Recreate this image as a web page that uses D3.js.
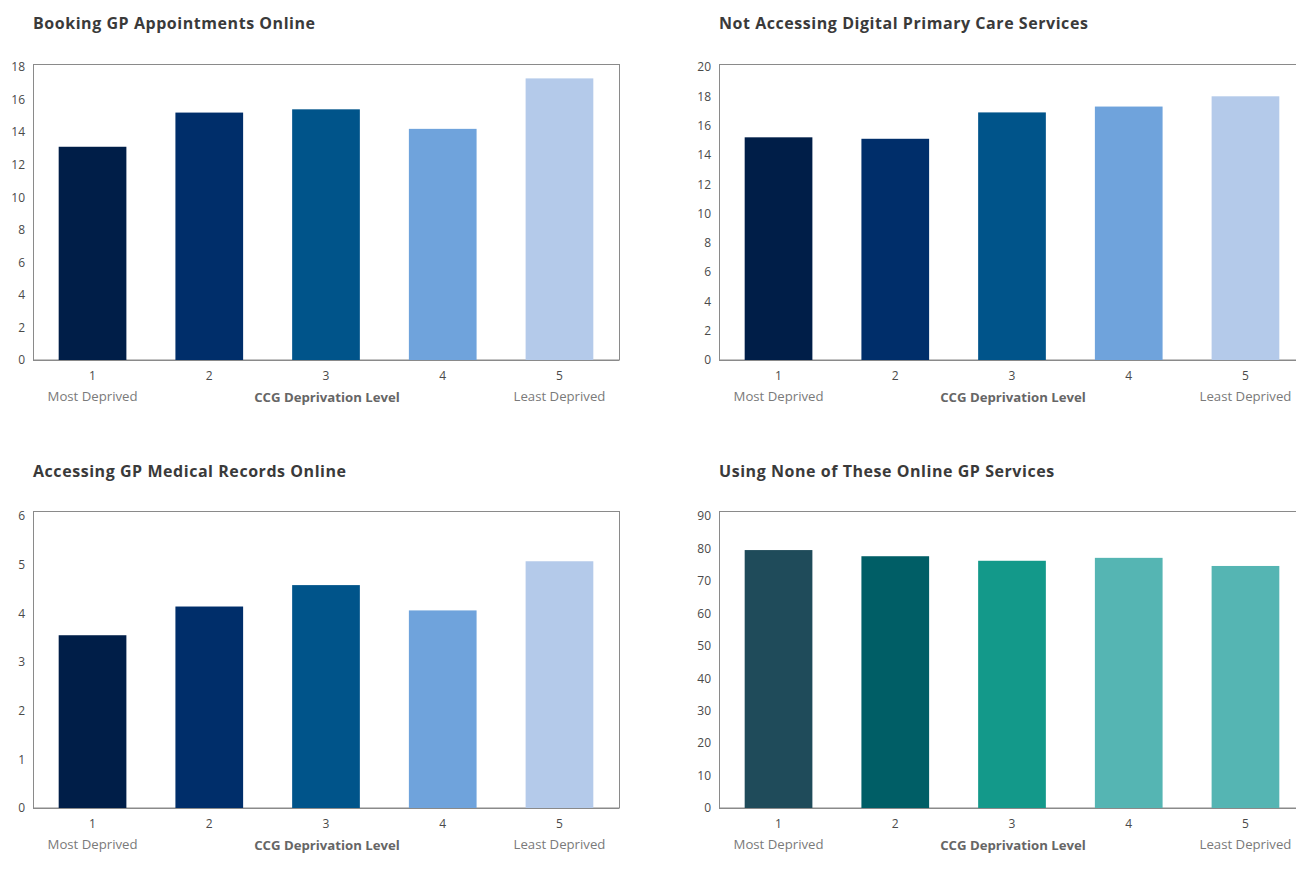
<!DOCTYPE html>
<html><head><meta charset="utf-8">
<script src="https://cdn.jsdelivr.net/npm/d3@7"></script>
<style>
body{margin:0;background:#fff;}
svg{display:block;font-family:"Open Sans",sans-serif;}
</style></head>
<body>
<svg id="c" width="1296" height="888"></svg>
<script>
const categories = ["1","2","3","4","5"];
const bookingValues = [13.1, 15.2, 15.4, 14.2, 17.3];
const notAccessingValues = [15.2, 15.1, 16.9, 17.3, 18.0];
const recordsValues = [3.55, 4.14, 4.58, 4.06, 5.07];
const noneValues = [79.5, 77.6, 76.2, 77.1, 74.6];
const bookingTicks = [0,2,4,6,8,10,12,14,16,18];
const notAccessingTicks = [0,2,4,6,8,10,12,14,16,18,20];
const recordsTicks = [0,1,2,3,4,5,6];
const noneTicks = [0,10,20,30,40,50,60,70,80,90];
const titles = ["Booking GP Appointments Online","Not Accessing Digital Primary Care Services","Accessing GP Medical Records Online","Using None of These Online GP Services"];
const blues = ["#001e48","#002e6a","#00548a","#6fa3dc","#b4caea"];
const teals = ["#1f4b5a","#005e66","#13998a","#55b5b3","#55b5b3"];
const xAxisTitle = "CCG Deprivation Level";
const leftLabel = "Most Deprived", rightLabel = "Least Deprived";

const svg = d3.select("#c");
const panels = [
  {x:33,y:64,h:296,vals:bookingValues,ticks:bookingTicks,max:18,title:titles[0],colors:blues,ty:22,top:3},
  {x:719,y:64,h:296,vals:notAccessingValues,ticks:notAccessingTicks,max:20,title:titles[1],colors:blues,ty:22,top:3},
  {x:33,y:511,h:297,vals:recordsValues,ticks:recordsTicks,max:6,title:titles[2],colors:blues,ty:470,top:5},
  {x:719,y:511,h:297,vals:noneValues,ticks:noneTicks,max:90,title:titles[3],colors:teals,ty:470,top:5}
];
const W = 586;
panels.forEach(p=>{
  const g = svg.append("g").attr("transform",`translate(${p.x},${p.y})`);
  svg.append("text").attr("x",p.x).attr("y",p.ty+1).attr("dy","0.35em")
    .attr("font-size",16).attr("letter-spacing",0.55).attr("font-weight","bold").attr("fill","#3a3a3a").text(p.title);
  const x = d3.scaleBand().domain(categories).range([0,W]).paddingInner(0.42).paddingOuter(0.22);
  const y = d3.scaleLinear().domain([0,p.max]).range([p.h,p.top]);
  g.append("rect").attr("x",0.5).attr("y",0.5).attr("width",W).attr("height",p.h-0.5)
    .attr("fill","none").attr("stroke","#8a8a8a").attr("stroke-width",1);
  g.selectAll("rect.bar").data(p.vals).join("rect").attr("class","bar")
    .attr("x",(d,i)=>x(categories[i])).attr("width",x.bandwidth())
    .attr("y",d=>y(d)).attr("height",d=>p.h-y(d)).attr("fill",(d,i)=>p.colors[i]);
  g.append("line").attr("x1",0).attr("x2",W).attr("y1",p.h+0.5).attr("y2",p.h+0.5).attr("stroke","#8a8a8a");
  const ya = d3.axisLeft(y).tickValues(p.ticks).tickFormat(d3.format("d")).tickSize(0).tickPadding(8);
  g.append("g").call(ya).call(s=>s.select(".domain").remove())
    .selectAll("text").attr("font-family","'Open Sans', sans-serif").attr("font-size",12).attr("fill","#4a4a4a");
  const xa = d3.axisBottom(x).tickSize(0).tickPadding(11);
  g.append("g").attr("transform",`translate(0,${p.h})`).call(xa).call(s=>s.select(".domain").remove())
    .selectAll("text").attr("font-family","'Open Sans', sans-serif").attr("font-size",12).attr("fill","#4a4a4a");
  const ly = p.h + 41;
  g.append("text").attr("x",x(categories[0])+x.bandwidth()/2).attr("y",ly).attr("text-anchor","middle")
    .attr("font-size",13.2).attr("fill","#7a7a7a").text(leftLabel);
  g.append("text").attr("x",x(categories[4])+x.bandwidth()/2).attr("y",ly).attr("text-anchor","middle")
    .attr("font-size",13.2).attr("fill","#7a7a7a").text(rightLabel);
  g.append("text").attr("x",W/2+1).attr("y",ly+1).attr("text-anchor","middle")
    .attr("font-size",13.2).attr("font-weight","bold").attr("fill","#666").text(xAxisTitle);
});
</script>
</body></html>
